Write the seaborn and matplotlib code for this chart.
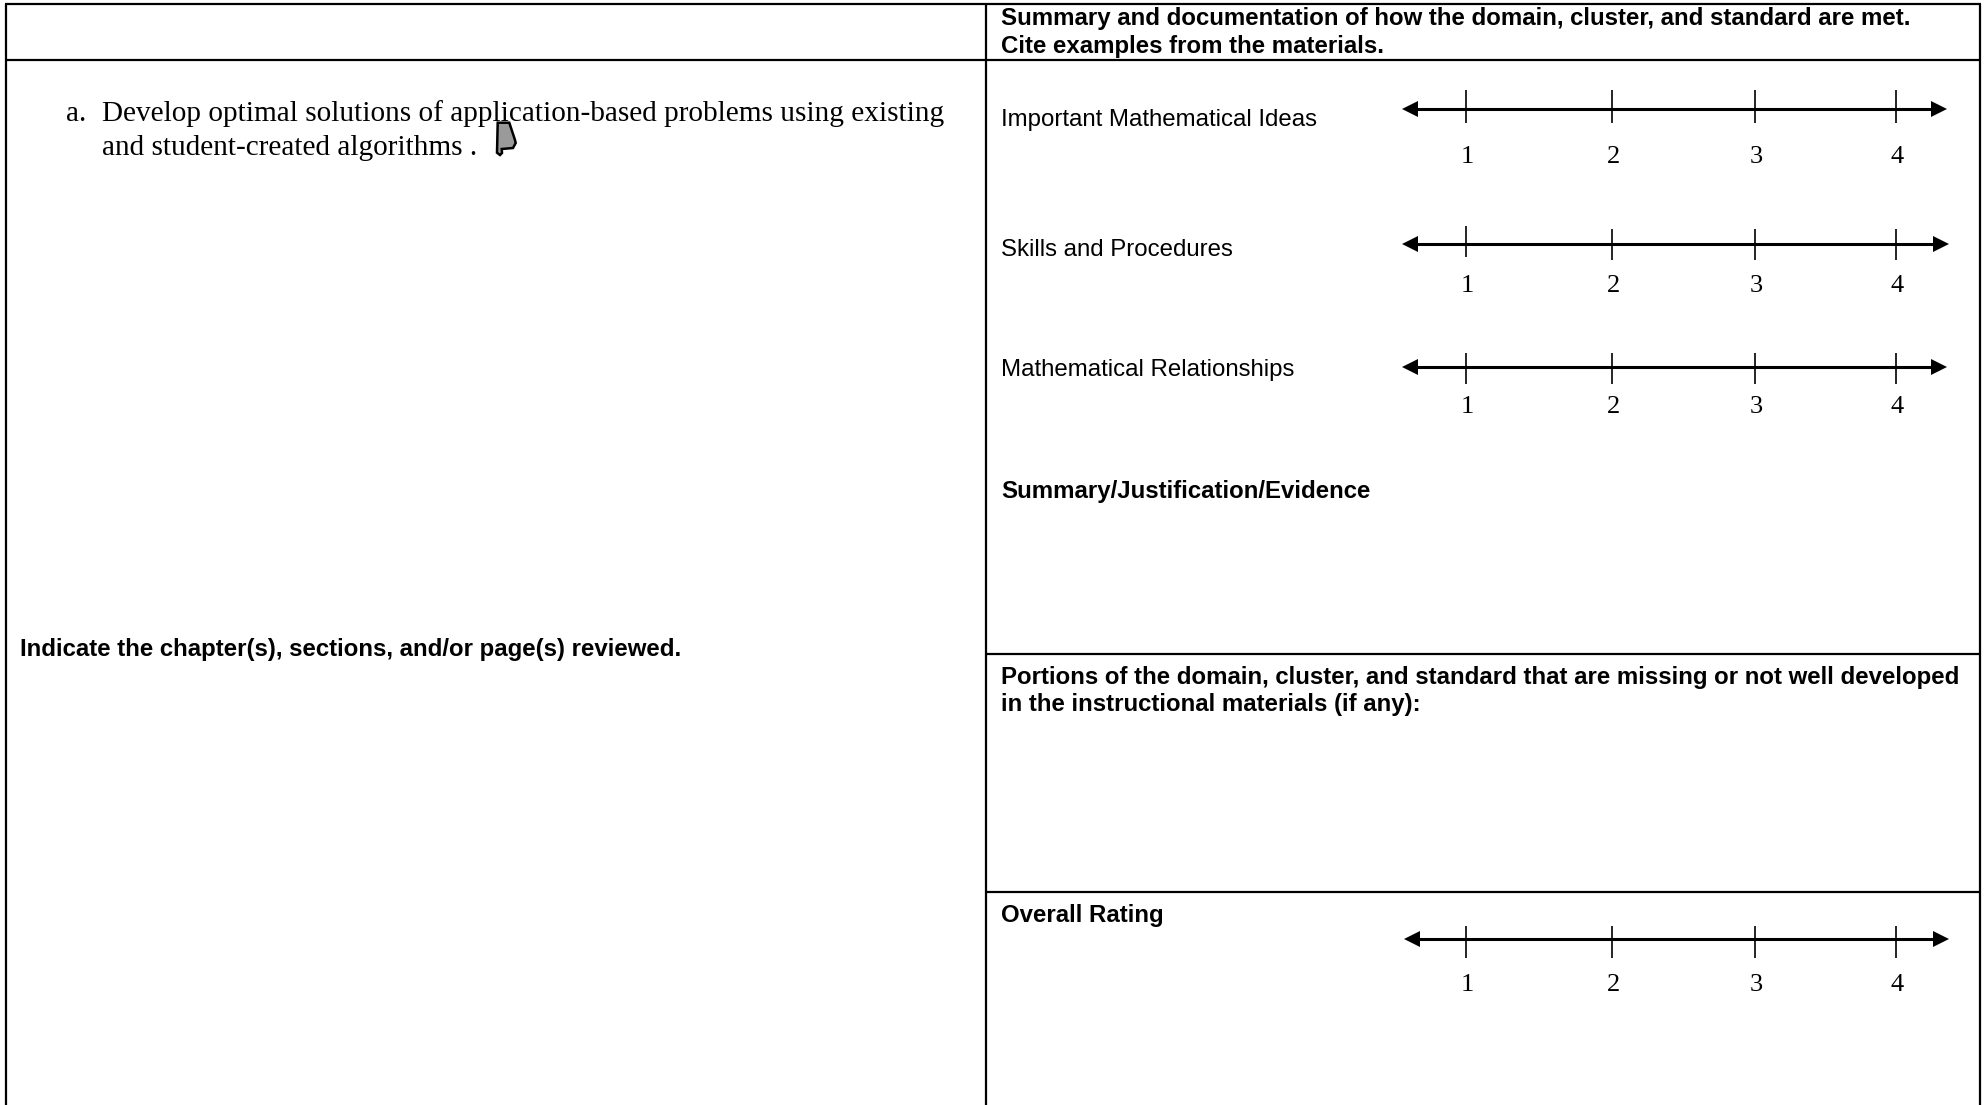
import matplotlib
matplotlib.use("Agg")
import matplotlib.pyplot as plt
from matplotlib.patches import Polygon
import pandas as pd
import seaborn as sns

sns.set_theme(style="white")

rating_labels = ["1", "2", "3", "4"]
scale_names = ["Important Mathematical Ideas", "Skills and Procedures", "Mathematical Relationships", "Overall Rating"]
scale_y = [109, 244, 367, 939]
scale_label_y = [157, 286, 407, 985]
scale_ticks = [[1466, 1612, 1755, 1896]] * 4
scale_tick_spans = [
    [(90, 123)] * 4,
    [(226, 257), (229, 260), (229, 260), (229, 260)],
    [(353, 384)] * 4,
    [(926, 958)] * 4,
]
arrow_ends = [(1402, 1947), (1402, 1949), (1402, 1947), (1404, 1949)]

H_RULES = [(5, 1981, 4), (5, 1981, 60), (986, 1981, 654), (986, 1981, 892)]
V_RULES = [(6, 4, 1105), (986, 4, 1105), (1979.5, 4, 1105)]

SANS = "Liberation Sans"
SERIF = "Liberation Serif"
BOLD_SIZE = 17.3
REG_SIZE = 17.3
SERIF_SIZE = 21.1
DIGIT_SIZE = 19

fig = plt.figure(figsize=(19.86, 11.05), dpi=100, facecolor="white")
ax = fig.add_axes([0, 0, 1, 1])
ax.set_xlim(0, 1986)
ax.set_ylim(1105, 0)
ax.axis("off")

def seg(x, y, lw):
    df = pd.DataFrame({"x": x, "y": y})
    sns.lineplot(data=df, x="x", y="y", ax=ax, color="black", lw=lw, sort=False,
                 estimator=None, legend=False, solid_capstyle="butt")

for x0, x1, y in H_RULES:
    seg([x0, x1], [y, y], 1.6)
for x, y0, y1 in V_RULES:
    seg([x, x], [y0, y1], 1.6)

for yv, ly, xs, spans, (a0, a1) in zip(scale_y, scale_label_y, scale_ticks, scale_tick_spans, arrow_ends):
    seg([a0 + 8, a1 - 8], [yv, yv], 2.2)
    ax.add_patch(Polygon([(a0, yv), (a0 + 16, yv - 8), (a0 + 16, yv + 8)], closed=True, fc="black", ec="none"))
    ax.add_patch(Polygon([(a1, yv), (a1 - 16, yv - 8), (a1 - 16, yv + 8)], closed=True, fc="black", ec="none"))
    for xt, (t0, t1), lab in zip(xs, spans, rating_labels):
        seg([xt, xt], [t0, t1], 1.2)
        ax.text(xt + 1, ly, lab, family=SERIF, fontsize=DIGIT_SIZE, ha="center", va="center", color="black")

def txt(x, y, s, family=SANS, size=REG_SIZE, weight="normal"):
    ax.text(x, y, s, family=family, fontsize=size, fontweight=weight, ha="left", va="baseline", color="black")

txt(1001, 25, "Summary and documentation of how the domain, cluster, and standard are met.", size=BOLD_SIZE, weight="bold")
txt(1001, 53, "Cite examples from the materials.", size=BOLD_SIZE, weight="bold")
txt(1001, 126, scale_names[0])
txt(1001, 256, scale_names[1])
txt(1001, 376, scale_names[2])
txt(1001, 498, "Summary/Justification/Evidence", size=BOLD_SIZE, weight="bold")
txt(1001, 684, "Portions of the domain, cluster, and standard that are missing or not well developed", size=BOLD_SIZE, weight="bold")
txt(1001, 711, "in the instructional materials (if any):", size=BOLD_SIZE, weight="bold")
txt(1001, 922, scale_names[3], size=BOLD_SIZE, weight="bold")
txt(20, 656, "Indicate the chapter(s), sections, and/or page(s) reviewed.", size=BOLD_SIZE, weight="bold")

txt(66, 121, "a.", family=SERIF, size=SERIF_SIZE)
txt(102, 121, "Develop optimal solutions of application-based problems using existing", family=SERIF, size=SERIF_SIZE)
txt(102, 155, "and student-created algorithms .", family=SERIF, size=SERIF_SIZE)

shape = [(497.7, 122.7), (509.3, 122.7), (515, 140), (515.7, 143), (513, 148), (501.7, 149), (502, 153), (500, 155), (497, 152.7)]
ax.add_patch(Polygon(shape, closed=True, fc="#9a9a9a", ec="black", lw=1.8, zorder=5))

fig.savefig("out.png", dpi=100, facecolor="white")
